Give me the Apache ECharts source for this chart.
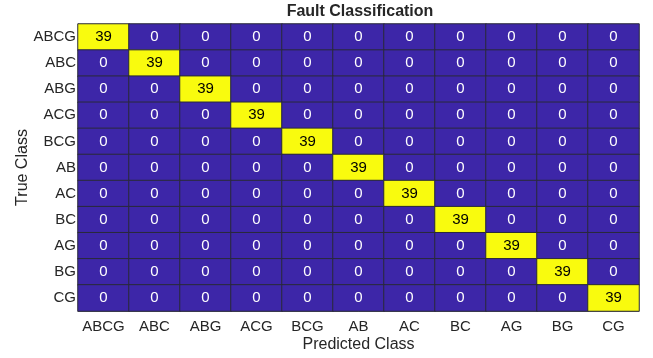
<!DOCTYPE html>
<html><head><meta charset="utf-8">
<script src="https://cdn.jsdelivr.net/npm/echarts@6/dist/echarts.min.js"></script>
<style>html,body{margin:0;padding:0;background:#fff}#c{width:653px;height:358px}</style>
</head><body><div id="c"></div>
<script>
const classes = ['ABCG','ABC','ABG','ACG','BCG','AB','AC','BC','AG','BG','CG'];
const matrix = [
 [39,0,0,0,0,0,0,0,0,0,0],
 [0,39,0,0,0,0,0,0,0,0,0],
 [0,0,39,0,0,0,0,0,0,0,0],
 [0,0,0,39,0,0,0,0,0,0,0],
 [0,0,0,0,39,0,0,0,0,0,0],
 [0,0,0,0,0,39,0,0,0,0,0],
 [0,0,0,0,0,0,39,0,0,0,0],
 [0,0,0,0,0,0,0,39,0,0,0],
 [0,0,0,0,0,0,0,0,39,0,0],
 [0,0,0,0,0,0,0,0,0,39,0],
 [0,0,0,0,0,0,0,0,0,0,39]
];
const data = [];
matrix.forEach((row, r) => row.forEach((v, c) => {
  data.push({value: [c, r, v], label: {color: v > 0 ? '#000' : '#fff'}});
}));
const font = 'Liberation Sans, Arial, sans-serif';
const chart = echarts.init(document.getElementById('c'));
chart.setOption({
  animation: false,
  title: {text: 'Fault Classification', left: 360, top: 4, textAlign: 'center', padding: 0,
    textStyle: {fontFamily: font, fontSize: 16, fontWeight: 'bold', color: '#262626'}},
  grid: {left: 78, right: 14, top: 24, bottom: 47, outerBoundsMode: 'none', containLabel: false},
  xAxis: {type: 'category', data: classes, name: 'Predicted Class', nameLocation: 'middle', nameGap: 26,
    nameMoveOverlap: false,
    nameTextStyle: {fontFamily: font, fontSize: 16, color: '#262626'},
    axisLine: {show: true, lineStyle: {color: '#808080'}}, axisTick: {show: false}, splitLine: {show: false},
    axisLabel: {fontFamily: font, fontSize: 15, color: '#262626', margin: 8, interval: 0}},
  yAxis: {type: 'category', data: classes, inverse: true, name: 'True Class', nameLocation: 'middle', nameGap: 47,
    nameMoveOverlap: false,
    nameTextStyle: {fontFamily: font, fontSize: 16, color: '#262626'},
    axisLine: {show: true, lineStyle: {color: '#808080'}}, axisTick: {show: false}, splitLine: {show: false},
    axisLabel: {fontFamily: font, fontSize: 15, color: '#262626', margin: 2, interval: 0}},
  visualMap: {show: false, type: 'piecewise', dimension: 2,
    pieces: [{min: 0, max: 0.5, color: '#3d26a8'}, {min: 0.5, max: 100, color: '#f9fb0e'}]},
  series: [{type: 'heatmap', data: data,
    itemStyle: {borderColor: '#2a2a3a', borderWidth: 1},
    label: {show: true, fontFamily: font, fontSize: 15}}]
});
</script></body></html>
